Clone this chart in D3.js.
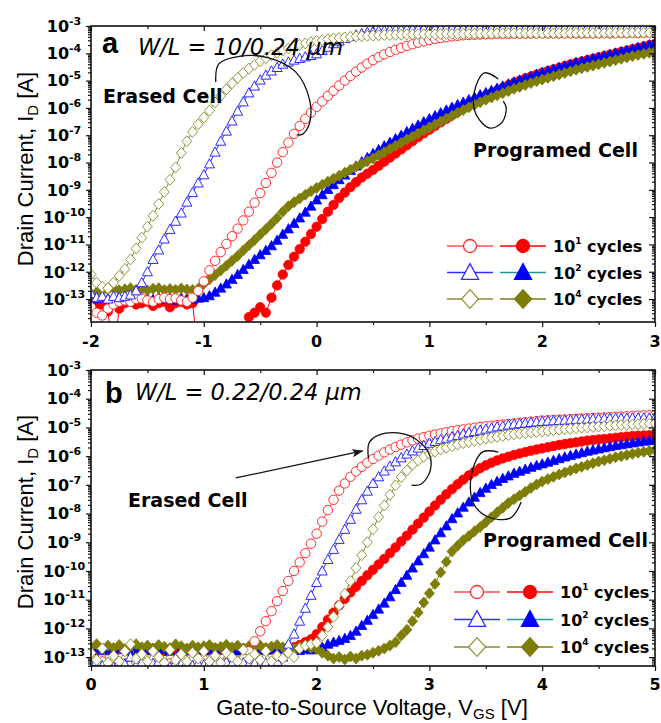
<!DOCTYPE html>
<html>
<head>
<meta charset="UTF-8">
<title>ID-VGS after cycling</title>
<script src="https://cdn.jsdelivr.net/npm/d3@7"></script>
<style>
  body { margin: 0; background: #fff; }
  .tick text { display: none; }
  .lab { font-family: "DejaVu Sans", sans-serif; font-weight: bold; }
  .title { font-family: "Liberation Sans", Arial, sans-serif; font-size: 22px; }
</style>
</head>
<body>
<svg id="chart" width="661" height="723"></svg>
<script>
// gate voltage sweep, 0.05 V step
var vgA = d3.range(101).map(function(i) { return +(-2 + i * 0.05).toFixed(2); });
var vgB = d3.range(101).map(function(i) { return +(i * 0.05).toFixed(2); });

// log10(ID), panel a (W/L = 10/0.24)
var aOpen1 = [-13.30,-13.50,-13.60,-13.35,-13.20,-13.10,-13.05,-13.10,-13.00,-12.98,
  -13.05,-13.10,-13.00,-12.95,-13.00,-12.97,-13.05,-13.10,-12.95,-12.70,
  -12.35,-11.95,-11.60,-11.28,-10.98,-10.70,-10.42,-10.12,-9.80,-9.47,
  -9.12,-8.75,-8.38,-8.00,-7.62,-7.27,-6.95,-6.66,-6.40,-6.17,
  -5.96,-5.76,-5.56,-5.37,-5.18,-5.00,-4.83,-4.67,-4.52,-4.38,
  -4.25,-4.14,-4.04,-3.95,-3.87,-3.80,-3.73,-3.67,-3.61,-3.56,
  -3.51,-3.47,-3.44,-3.41,-3.38,-3.36,-3.34,-3.33,-3.32,-3.31,
  -3.30,-3.30,-3.29,-3.29,-3.29,-3.28,-3.28,-3.28,-3.28,-3.27,
  -3.27,-3.27,-3.27,-3.27,-3.27,-3.27,-3.27,-3.27,-3.27,-3.27,
  -3.27,-3.26,-3.27,-3.26,-3.26,-3.26,-3.25,-3.26,-3.25,-3.25,
  -3.25];
var aFill1 = [-13.20,-13.25,-13.20,-13.45,-15,-13.35,-13.15,-13.10,-13.20,-13.15,
  -13.10,-13.25,-13.15,-13.10,-13.30,-13.15,-13.10,-13.20,-13.15,-15,
  -15,-15,-15,-15,-15,-15,-15,-15,-13.66,-13.50,
  -13.30,-13.50,-12.95,-12.50,-12.10,-11.75,-11.45,-11.17,-10.90,-10.62,
  -10.35,-10.07,-9.80,-9.55,-9.30,-9.10,-8.90,-8.72,-8.55,-8.41,
  -8.27,-8.12,-7.97,-7.82,-7.67,-7.52,-7.37,-7.22,-7.07,-6.93,
  -6.80,-6.66,-6.53,-6.40,-6.27,-6.14,-6.02,-5.90,-5.78,-5.67,
  -5.56,-5.46,-5.36,-5.26,-5.17,-5.08,-5.00,-4.92,-4.85,-4.78,
  -4.71,-4.65,-4.59,-4.53,-4.47,-4.41,-4.35,-4.30,-4.25,-4.20,
  -4.15,-4.10,-4.05,-4.00,-3.95,-3.90,-3.85,-3.80,-3.75,-3.70,
  -3.65];
var aOpen2 = [-12.80,-12.95,-12.90,-13.00,-12.90,-12.95,-12.90,-12.85,-12.70,-12.40,
  -12.00,-11.55,-11.20,-10.80,-10.45,-10.15,-9.85,-9.45,-9.10,-8.75,
  -8.45,-8.05,-7.62,-7.22,-6.85,-6.48,-6.12,-5.78,-5.45,-5.20,
  -4.98,-4.80,-4.65,-4.52,-4.40,-4.32,-4.25,-4.19,-4.13,-4.08,
  -4.02,-3.90,-3.78,-3.65,-3.55,-3.46,-3.39,-3.33,-3.28,-3.24,
  -3.21,-3.18,-3.16,-3.14,-3.13,-3.12,-3.11,-3.11,-3.10,-3.10,
  -3.10,-3.09,-3.10,-3.09,-3.09,-3.09,-3.08,-3.09,-3.08,-3.08,
  -3.08,-3.08,-3.07,-3.08,-3.07,-3.07,-3.07,-3.07,-3.06,-3.07,
  -3.06,-3.06,-3.06,-3.06,-3.06,-3.05,-3.06,-3.05,-3.05,-3.05,
  -3.05,-3.05,-3.05,-3.05,-3.05,-3.05,-3.05,-3.05,-3.05,-3.05,
  -3.05];
var aFill2 = [-12.95,-13.00,-12.92,-12.98,-13.02,-12.95,-12.99,-13.03,-12.96,-12.94,
  -12.98,-13.02,-12.95,-13.00,-12.97,-13.04,-12.96,-12.99,-13.01,-12.97,
  -12.95,-12.88,-12.75,-12.60,-12.45,-12.28,-12.10,-11.92,-11.73,-11.55,
  -11.38,-11.22,-11.05,-10.85,-10.63,-10.43,-10.23,-10.03,-9.82,-9.60,
  -9.37,-9.18,-8.99,-8.81,-8.63,-8.46,-8.29,-8.13,-7.97,-7.82,
  -7.67,-7.53,-7.39,-7.26,-7.13,-7.00,-6.87,-6.75,-6.63,-6.51,
  -6.40,-6.29,-6.18,-6.08,-5.98,-5.88,-5.79,-5.70,-5.61,-5.52,
  -5.44,-5.36,-5.28,-5.20,-5.12,-5.05,-4.98,-4.91,-4.84,-4.77,
  -4.70,-4.64,-4.58,-4.52,-4.46,-4.40,-4.34,-4.29,-4.24,-4.19,
  -4.14,-4.09,-4.04,-3.99,-3.94,-3.89,-3.84,-3.79,-3.74,-3.69,
  -3.64];
var aOpen4 = [-12.10,-12.40,-12.55,-12.60,-12.40,-12.15,-11.90,-11.55,-11.15,-10.75,
  -10.35,-9.95,-9.52,-9.08,-8.63,-8.18,-7.65,-7.22,-6.88,-6.60,
  -6.35,-6.10,-5.80,-5.56,-5.32,-5.10,-4.90,-4.72,-4.56,-4.42,
  -4.29,-4.18,-4.07,-3.98,-3.90,-3.82,-3.75,-3.69,-3.64,-3.59,
  -3.55,-3.52,-3.49,-3.46,-3.44,-3.42,-3.40,-3.38,-3.37,-3.36,
  -3.35,-3.34,-3.33,-3.33,-3.32,-3.32,-3.31,-3.31,-3.30,-3.30,
  -3.30,-3.30,-3.29,-3.29,-3.29,-3.29,-3.28,-3.28,-3.28,-3.28,
  -3.28,-3.28,-3.27,-3.28,-3.27,-3.27,-3.27,-3.27,-3.27,-3.27,
  -3.27,-3.26,-3.27,-3.26,-3.27,-3.26,-3.26,-3.26,-3.26,-3.26,
  -3.26,-3.26,-3.25,-3.26,-3.25,-3.26,-3.25,-3.25,-3.25,-3.25,
  -3.25];
var aFill4 = [-12.85,-12.75,-12.70,-12.65,-12.62,-12.68,-12.64,-12.60,-12.66,-12.63,
  -12.68,-12.62,-12.60,-12.67,-12.63,-12.66,-12.61,-12.65,-12.67,-12.62,
  -12.45,-12.28,-12.12,-11.95,-11.78,-11.60,-11.42,-11.22,-11.03,-10.84,
  -10.64,-10.44,-10.24,-10.03,-9.80,-9.60,-9.45,-9.32,-9.18,-9.05,
  -8.93,-8.81,-8.70,-8.59,-8.48,-8.37,-8.26,-8.15,-8.05,-7.95,
  -7.85,-7.73,-7.62,-7.50,-7.39,-7.28,-7.16,-7.05,-6.94,-6.83,
  -6.72,-6.61,-6.50,-6.39,-6.29,-6.18,-6.08,-5.98,-5.88,-5.79,
  -5.70,-5.62,-5.54,-5.46,-5.38,-5.30,-5.23,-5.16,-5.09,-5.02,
  -4.96,-4.90,-4.84,-4.78,-4.72,-4.66,-4.60,-4.55,-4.50,-4.45,
  -4.40,-4.35,-4.30,-4.25,-4.20,-4.15,-4.10,-4.06,-4.02,-3.98,
  -3.94];

// log10(ID), panel b (W/L = 0.22/0.24)
var bOpen1 = [-13.20,-13.35,-13.15,-13.25,-13.40,-13.18,-13.22,-13.30,-13.15,-13.25,
  -13.20,-13.30,-13.18,-13.35,-13.22,-13.15,-13.28,-13.20,-13.32,-13.18,
  -13.22,-13.30,-13.17,-13.25,-13.20,-13.28,-13.15,-13.05,-12.80,-12.45,
  -12.10,-11.75,-11.40,-11.05,-10.70,-10.35,-10.00,-9.70,-9.38,-9.05,
  -8.70,-8.28,-7.88,-7.52,-7.20,-6.95,-6.72,-6.53,-6.37,-6.23,
  -6.10,-5.98,-5.87,-5.77,-5.68,-5.60,-5.52,-5.45,-5.39,-5.34,
  -5.29,-5.25,-5.21,-5.17,-5.13,-5.10,-5.07,-5.04,-5.01,-4.98,
  -4.96,-4.94,-4.92,-4.90,-4.88,-4.86,-4.84,-4.82,-4.80,-4.78,
  -4.76,-4.75,-4.74,-4.73,-4.72,-4.71,-4.70,-4.69,-4.68,-4.67,
  -4.66,-4.65,-4.64,-4.63,-4.62,-4.61,-4.60,-4.59,-4.58,-4.58,
  -4.57];
var bFill1 = [-12.72,-12.78,-12.70,-12.75,-12.80,-12.72,-12.76,-12.70,-12.78,-12.74,
  -12.76,-12.70,-12.74,-12.79,-12.72,-12.75,-12.70,-12.78,-12.73,-12.76,
  -12.72,-12.77,-12.70,-12.75,-12.78,-12.72,-12.74,-12.70,-12.76,-12.73,
  -12.75,-12.70,-12.74,-12.78,-12.72,-12.68,-12.65,-12.58,-12.48,-12.38,
  -12.20,-11.95,-11.70,-11.45,-11.20,-10.97,-10.75,-10.55,-10.35,-10.15,
  -9.96,-9.77,-9.58,-9.38,-9.18,-8.97,-8.77,-8.56,-8.35,-8.14,
  -7.93,-7.72,-7.52,-7.33,-7.15,-6.98,-6.82,-6.67,-6.54,-6.42,
  -6.32,-6.23,-6.15,-6.08,-6.02,-5.96,-5.91,-5.86,-5.81,-5.77,
  -5.73,-5.69,-5.65,-5.61,-5.58,-5.55,-5.52,-5.49,-5.46,-5.44,
  -5.42,-5.40,-5.38,-5.36,-5.34,-5.32,-5.30,-5.29,-5.28,-5.27,
  -5.26];
var bOpen2 = [-13.25,-13.15,-13.30,-13.20,-13.35,-13.18,-13.25,-13.00,-13.28,-13.20,
  -13.30,-13.22,-13.15,-13.28,-13.35,-13.20,-13.25,-13.18,-13.30,-13.22,
  -13.28,-13.20,-13.25,-13.32,-13.18,-13.24,-13.30,-13.20,-13.26,-13.22,
  -13.28,-13.20,-13.25,-13.15,-13.00,-12.55,-12.20,-11.75,-11.30,-10.85,
  -10.40,-10.00,-9.60,-9.25,-8.90,-8.55,-8.20,-7.85,-7.52,-7.22,
  -6.95,-6.72,-6.52,-6.35,-6.20,-6.06,-5.93,-5.82,-5.72,-5.63,
  -5.55,-5.49,-5.43,-5.38,-5.33,-5.28,-5.23,-5.18,-5.14,-5.10,
  -5.06,-5.02,-4.98,-4.95,-4.92,-4.89,-4.87,-4.85,-4.83,-4.81,
  -4.79,-4.78,-4.77,-4.76,-4.75,-4.74,-4.73,-4.72,-4.71,-4.70,
  -4.70,-4.69,-4.69,-4.68,-4.68,-4.68,-4.67,-4.67,-4.67,-4.67,
  -4.66];
var bFill2 = [-12.75,-12.70,-12.78,-12.72,-12.80,-12.68,-12.74,-12.79,-12.70,-12.76,
  -12.72,-12.78,-12.66,-12.74,-12.80,-12.55,-12.72,-12.77,-12.70,-12.75,
  -12.78,-12.70,-12.74,-12.68,-12.76,-12.72,-12.79,-12.70,-12.75,-12.73,
  -12.70,-12.76,-12.72,-12.68,-12.78,-12.74,-12.70,-12.77,-12.72,-12.75,
  -12.70,-12.65,-12.55,-12.48,-12.42,-12.35,-12.25,-12.10,-11.90,-11.72,
  -11.52,-11.33,-11.12,-10.90,-10.65,-10.40,-10.15,-9.90,-9.65,-9.40,
  -9.17,-8.92,-8.67,-8.43,-8.18,-7.98,-7.78,-7.60,-7.43,-7.27,
  -7.12,-6.99,-6.88,-6.78,-6.69,-6.60,-6.53,-6.46,-6.39,-6.33,
  -6.27,-6.21,-6.15,-6.09,-6.03,-5.98,-5.93,-5.88,-5.83,-5.79,
  -5.75,-5.71,-5.67,-5.63,-5.60,-5.57,-5.54,-5.51,-5.48,-5.46,
  -5.44];
var bOpen4 = [-12.85,-13.10,-12.70,-13.20,-12.95,-13.15,-12.80,-12.55,-13.05,-12.90,
  -13.15,-12.80,-13.00,-13.20,-12.75,-13.10,-12.90,-13.15,-12.85,-13.05,
  -12.80,-13.15,-12.95,-13.20,-12.85,-13.00,-13.15,-12.75,-13.05,-12.90,
  -13.10,-12.80,-13.15,-12.95,-13.05,-12.85,-13.00,-12.70,-12.60,-12.55,
  -12.50,-12.25,-11.95,-11.60,-11.20,-10.80,-10.35,-9.90,-9.45,-9.00,
  -8.55,-8.12,-7.72,-7.35,-7.02,-6.73,-6.50,-6.30,-6.15,-6.02,
  -5.92,-5.84,-5.77,-5.71,-5.65,-5.60,-5.55,-5.51,-5.47,-5.43,
  -5.39,-5.36,-5.33,-5.30,-5.27,-5.24,-5.22,-5.20,-5.18,-5.16,
  -5.14,-5.12,-5.10,-5.08,-5.06,-5.05,-5.03,-5.01,-5.00,-4.98,
  -4.97,-4.96,-4.94,-4.93,-4.92,-4.91,-4.90,-4.89,-4.88,-4.87,
  -4.86];
var bFill4 = [-12.65,-12.55,-12.70,-12.60,-12.68,-12.58,-12.72,-12.62,-12.55,-12.66,
  -12.60,-12.70,-12.58,-12.64,-12.68,-12.56,-12.62,-12.70,-12.60,-12.66,
  -12.62,-12.58,-12.68,-12.64,-12.57,-12.66,-12.60,-12.70,-12.62,-12.65,
  -12.60,-12.68,-12.63,-12.58,-12.66,-12.62,-12.70,-12.64,-12.60,-12.68,
  -12.72,-12.85,-12.95,-13.05,-13.00,-13.08,-12.98,-13.05,-12.95,-12.92,
  -12.85,-12.78,-12.70,-12.60,-12.48,-12.25,-12.05,-11.75,-11.45,-11.10,
  -10.78,-10.45,-10.05,-9.68,-9.32,-9.12,-8.93,-8.78,-8.62,-8.47,
  -8.30,-8.13,-7.96,-7.80,-7.63,-7.50,-7.37,-7.24,-7.11,-6.99,
  -6.88,-6.80,-6.72,-6.64,-6.57,-6.50,-6.43,-6.37,-6.31,-6.25,
  -6.19,-6.14,-6.09,-6.04,-6.00,-5.96,-5.92,-5.88,-5.85,-5.82,
  -5.79];

var cycleLabels = ["1", "2", "4"];

// marker / colour styles, in legend order: open, filled for each cycle count
var seriesStyle = [
  { shape: "circle",   open: true,  color: "#ff2a2a", line: "#ff5050" },
  { shape: "circle",   open: false, color: "#ff0000", line: "#ff0000" },
  { shape: "triangle", open: true,  color: "#2a2aff", line: "#3030ff" },
  { shape: "triangle", open: false, color: "#0000ff", line: "#1a9a9a" },
  { shape: "diamond",  open: true,  color: "#95953a", line: "#8a8a2a" },
  { shape: "diamond",  open: false, color: "#7d7d08", line: "#7d7d08" }
];

var shapes = {
  circle: function(r) { return d3.symbol(d3.symbolCircle, Math.PI * r * r)(); },
  triangle: function(r) { return "M0," + (-1.05 * r) + "L" + r + "," + (0.8 * r) + "L" + (-r) + "," + (0.8 * r) + "Z"; },
  diamond: function(r) { return "M0," + (-1.1 * r) + "L" + r + ",0L0," + (1.1 * r) + "L" + (-r) + ",0Z"; }
};

var svg = d3.select("#chart");
var L = 91, R = 655;

svg.append("defs").append("marker")
  .attr("id", "arrow").attr("viewBox", "0 0 10 10").attr("refX", 9).attr("refY", 5)
  .attr("markerWidth", 9).attr("markerHeight", 9).attr("orient", "auto")
  .append("path").attr("d", "M0,1.5L10,5L0,8.5L2.5,5Z").attr("fill", "#111");

function drawPanel(p) {
  var x = d3.scaleLinear().domain(p.xDomain).range([L, R]);
  var y = d3.scaleLog().domain([Math.pow(10, p.yMinExp), 1e-3]).range([p.bottom, p.top]);
  var T = p.top;

  var clipId = "clip-" + p.name;
  svg.append("clipPath").attr("id", clipId).append("rect")
    .attr("x", L).attr("y", p.top).attr("width", R - L).attr("height", p.bottom - p.top);

  // series: filled first, then open (white-filled) markers on top
  var plot = svg.append("g").attr("clip-path", "url(#" + clipId + ")");
  var order = [1, 3, 5, 0, 2, 4];
  var line = d3.line()
    .x(function(d, i) { return x(p.vg[i]); })
    .y(function(d) { return y(Math.pow(10, d)); });
  order.forEach(function(k) {
    var st = seriesStyle[k], vals = p.series[k];
    plot.append("path").attr("d", line(vals))
      .attr("fill", "none").attr("stroke", st.line).attr("stroke-width", 1);
    plot.append("g").selectAll("path").data(vals).join("path")
      .attr("transform", function(d, i) { return "translate(" + x(p.vg[i]) + "," + y(Math.pow(10, d)) + ")"; })
      .attr("d", shapes[st.shape](st.shape === "circle" ? 4.7 : 5))
      .attr("fill", st.open ? "#fff" : st.color)
      .attr("stroke", st.color)
      .attr("stroke-width", st.open ? 1 : 0.8);
  });

  // axes
  var exps = d3.range(-13, -2);
  var decades = exps.map(function(e) { return Math.pow(10, e); });
  var minors = [];
  for (var e = -14; e <= -4; e++) {
    for (var m = 2; m <= 9; m++) {
      var v = m * Math.pow(10, e);
      if (v >= y.domain()[0] && v <= 1e-3) minors.push(v);
    }
  }
  var xMaj = d3.range(p.xDomain[0], p.xDomain[1] + 1);
  var xMin = xMaj.slice(0, -1).map(function(d) { return d + 0.5; });

  function ax(gen, vals, size, tr) {
    svg.append("g").attr("transform", tr)
      .call(gen.tickValues(vals).tickSize(size).tickSizeOuter(0).tickFormat(""))
      .call(function(g) { g.select(".domain").remove(); })
      .selectAll("line").attr("stroke", "#111").attr("stroke-width", 1.2);
  }
  ax(d3.axisLeft(y), decades, 5, "translate(" + L + ",0)");
  ax(d3.axisLeft(y), minors, 3, "translate(" + L + ",0)");
  ax(d3.axisLeft(y), decades, 6, "translate(" + R + ",0)");
  ax(d3.axisLeft(y), minors, 3, "translate(" + R + ",0)");
  ax(d3.axisBottom(x), xMaj, 5, "translate(0," + p.bottom + ")");
  ax(d3.axisBottom(x), xMin, 3, "translate(0," + p.bottom + ")");
  ax(d3.axisBottom(x), xMaj, 5, "translate(0," + p.top + ")");
  ax(d3.axisBottom(x), xMin, 3, "translate(0," + p.top + ")");

  svg.append("rect").attr("x", L).attr("y", p.top).attr("width", R - L).attr("height", p.bottom - p.top)
    .attr("fill", "none").attr("stroke", "#111").attr("stroke-width", 1.6);

  // tick labels
  svg.append("g").selectAll("text").data(exps).join("text")
    .attr("class", "lab").attr("font-size", 16).attr("text-anchor", "middle")
    .attr("x", 64).attr("y", function(d) { return y(Math.pow(10, d)); }).attr("dy", "0.36em")
    .each(function(d) {
      var t = d3.select(this);
      t.append("tspan").text("10");
      t.append("tspan").attr("dy", -7).attr("font-size", 11).text(d);
    });
  svg.append("g").selectAll("text").data(xMaj).join("text")
    .attr("class", "lab").attr("font-size", 16).attr("text-anchor", "middle")
    .attr("x", function(d) { return x(d); }).attr("y", p.bottom + p.xLabOffset)
    .text(function(d) { return d; });

  // y title
  var yt = svg.append("text").attr("class", "title").attr("text-anchor", "middle")
    .attr("transform", "translate(33," + p.yTitleY + ") rotate(-90)");
  yt.append("tspan").text("Drain Current, I");
  yt.append("tspan").attr("font-size", 15).attr("dy", 5).text("D");
  yt.append("tspan").attr("dy", -5).text(" [A]");

  // panel letter, W/L and cell annotations
  svg.append("text").attr("x", L + p.letter[0]).attr("y", T + p.letter[1])
    .attr("font-family", "Liberation Sans, Arial, sans-serif").attr("font-weight", "bold")
    .attr("font-size", 29).text(p.name);
  svg.append("text").attr("x", L + p.wl[0]).attr("y", T + p.wl[1])
    .attr("font-family", "DejaVu Sans, sans-serif").attr("font-style", "italic")
    .attr("font-size", 22.5).text(p.wlText);
  svg.append("text").attr("class", "lab").attr("font-size", 19)
    .attr("x", L + p.erased[0]).attr("y", T + p.erased[1]).text("Erased Cell");
  svg.append("text").attr("class", "lab").attr("font-size", 19)
    .attr("x", L + p.prog[0]).attr("y", T + p.prog[1]).text("Programed Cell");

  var brace = d3.line()
    .x(function(d) { return x(d[0]); })
    .y(function(d) { return y(Math.pow(10, d[1])); })
    .curve(d3.curveCatmullRom);
  p.braces.forEach(function(b) {
    svg.append("path").attr("d", brace(b)).attr("fill", "none")
      .attr("stroke", "#111").attr("stroke-width", 1.3);
  });
  if (p.arrow) {
    svg.append("path").attr("d", d3.line()
        .x(function(d) { return x(d[0]); })
        .y(function(d) { return y(Math.pow(10, d[1])); })(p.arrow))
      .attr("stroke", "#111").attr("stroke-width", 1.3).attr("marker-end", "url(#arrow)");
  }

  // legend
  var lg = svg.append("g").attr("transform", "translate(" + (L + p.legend[0]) + "," + (T + p.legend[1]) + ")");
  cycleLabels.forEach(function(c, r) {
    var row = lg.append("g").attr("transform", "translate(0," + r * p.legendStep + ")");
    [0, 1].forEach(function(j) {
      var st = seriesStyle[r * 2 + j];
      var cx = j * 53;
      row.append("line").attr("x1", cx - 23).attr("x2", cx + 23).attr("y1", 0).attr("y2", 0)
        .attr("stroke", st.line).attr("stroke-width", 1.3);
      row.append("path").attr("transform", "translate(" + cx + ",0)")
        .attr("d", shapes[st.shape](st.shape === "circle" ? 6.5 : 8.5))
        .attr("fill", st.open ? "#fff" : st.color).attr("stroke", st.color).attr("stroke-width", 1.3);
    });
    var t = row.append("text").attr("class", "lab").attr("font-size", 16)
      .attr("x", 83).attr("y", 6);
    t.append("tspan").text("10");
    t.append("tspan").attr("font-size", 9).attr("dy", -8).text(c);
    t.append("tspan").attr("dy", 8).text(" cycles");
  });
}

drawPanel({
  name: "a", xDomain: [-2, 3], yMinExp: -13.84, top: 26, bottom: 322, vg: vgA,
  series: [aOpen1, aFill1, aOpen2, aFill2, aOpen4, aFill4],
  xLabOffset: 25, yTitleY: 169,
  letter: [11, 27], wl: [47, 29], wlText: "W/L = 10/0.24 \u03bcm",
  erased: [12, 77], prog: [382, 131],
  braces: [
    [[-0.894,-5.05],[-0.867,-4.39],[-0.673,-4.10],[-0.425,-4.17],[-0.186,-4.68],[-0.062,-5.71],[-0.062,-6.55],[-0.124,-6.96],[-0.177,-6.99]],
    [[1.611,-4.94],[1.487,-4.72],[1.398,-5.42],[1.416,-6.26],[1.540,-6.74],[1.646,-6.52],[1.681,-6.00],[1.655,-5.75]]
  ],
  legend: [379, 220], legendStep: 26.5
});

drawPanel({
  name: "b", xDomain: [0, 5], yMinExp: -13.31, top: 370, bottom: 666, vg: vgB,
  series: [bOpen1, bFill1, bOpen2, bFill2, bOpen4, bFill4],
  xLabOffset: 24, yTitleY: 512,
  letter: [14, 33], wl: [44, 30], wlText: "W/L = 0.22/0.24 \u03bcm",
  erased: [37, 137], prog: [392, 177],
  braces: [
    [[2.460,-6.07],[2.469,-5.51],[2.611,-5.20],[2.832,-5.30],[2.991,-5.86],[3.009,-6.48],[2.929,-6.97],[2.841,-7.01]],
    [[3.611,-5.86],[3.469,-5.86],[3.372,-6.66],[3.389,-7.63],[3.522,-8.12],[3.717,-8.16],[3.814,-7.60]]
  ],
  arrow: [[1.283,-6.76],[2.407,-5.82]],
  legend: [386, 222], legendStep: 27.5
});

// x title
var xt = svg.append("text").attr("class", "title").attr("text-anchor", "middle")
  .attr("x", 372).attr("y", 715);
xt.append("tspan").text("Gate-to-Source Voltage, V");
xt.append("tspan").attr("font-size", 15).attr("dy", 4).text("GS");
xt.append("tspan").attr("dy", -4).text(" [V]");
</script>
</body>
</html>
